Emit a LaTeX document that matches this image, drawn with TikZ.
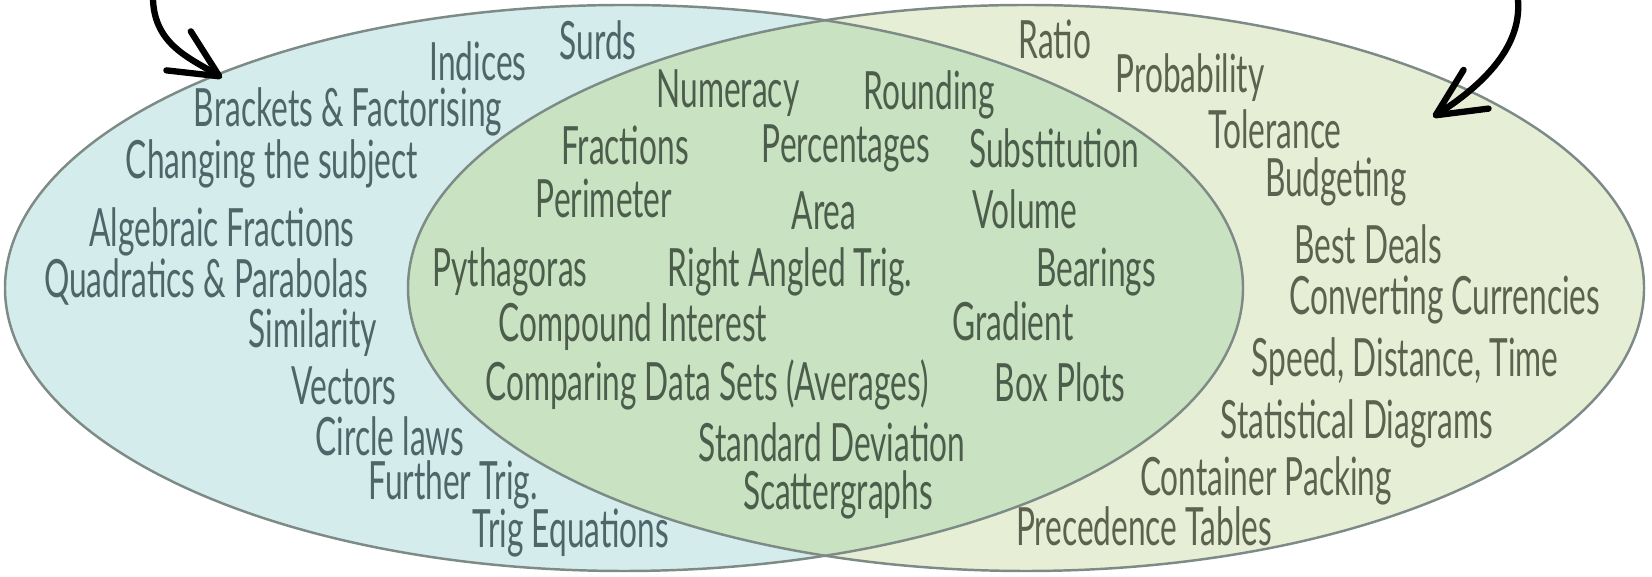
\documentclass[tikz,border=0pt]{standalone}
\usepackage{fontspec}
\setmainfont{Lato}[FakeStretch=0.6]
\usetikzlibrary{arrows.meta}
\definecolor{leftfill}{HTML}{D5ECEC}
\definecolor{rightfill}{HTML}{E6EFD5}
\definecolor{midfill}{HTML}{C9E2C2}
\definecolor{rimgray}{HTML}{7D8A85}
\definecolor{lefttext}{HTML}{4E6569}
\definecolor{midtext}{HTML}{4C5D4B}
\definecolor{righttext}{HTML}{5D6250}
\begin{document}
\begin{tikzpicture}[x=0.01cm, y=-0.01cm,
    topic/.style={inner sep=0pt, font=\fontsize{15}{17}\selectfont},
    lefttopic/.style={topic, text=lefttext},
    midtopic/.style={topic, text=midtext},
    righttopic/.style={topic, text=righttext},
    rim/.style={draw=rimgray, line width=0.7pt},
    bigarrow/.style={line width=1.8pt, line cap=round, -{Straight Barb[length=4.8mm, width=4.6mm, round]}}]
    \useasboundingbox (0,0) rectangle (1652,577);
    \fill[leftfill] (624,288) ellipse [x radius=619, y radius=283];
    \fill[rightfill] (1026,288) ellipse [x radius=618, y radius=283];
    \begin{scope}
        \clip (624,288) ellipse [x radius=619, y radius=283];
        \fill[midfill] (1026,288) ellipse [x radius=618, y radius=283];
    \end{scope}
    \draw[rim] (624,288) ellipse [x radius=619, y radius=283];
    \draw[rim] (1026,288) ellipse [x radius=618, y radius=283];

    \node[lefttopic] (surds) at (598,40) {Surds};
    \node[lefttopic] (indices) at (478,61) {Indices};
    \node[lefttopic] (brackets) at (348,112) {Brackets \& Factorising};
    \node[lefttopic] (subject) at (272,164) {Changing the subject};
    \node[lefttopic] (algfrac) at (222,232) {Algebraic Fractions};
    \node[lefttopic] (quadratics) at (206,282) {Quadratics \& Parabolas};
    \node[lefttopic] (similarity) at (313,333) {Similarity};
    \node[lefttopic] (vectors) at (344,386) {Vectors};
    \node[lefttopic] (circle) at (390,436) {Circle laws};
    \node[lefttopic] (furthertrig) at (453,485) {Further Trig.};
    \node[lefttopic] (trigeq) at (571,533) {Trig Equations};

    \node[midtopic] (numeracy) at (728,93) {Numeracy};
    \node[midtopic] (rounding) at (929,95) {Rounding};
    \node[midtopic] (fractions) at (625,145) {Fractions};
    \node[midtopic] (percentages) at (846,148) {Percentages};
    \node[midtopic] (substitution) at (1054,148) {Substitution};
    \node[midtopic] (perimeter) at (604,198) {Perimeter};
    \node[midtopic] (area) at (824,211) {Area};
    \node[midtopic] (volume) at (1025,209) {Volume};
    \node[midtopic] (pythagoras) at (510,272) {Pythagoras};
    \node[midtopic] (righttrig) at (790,272) {Right Angled Trig.};
    \node[midtopic] (bearings) at (1096,272) {Bearings};
    \node[midtopic] (compound) at (633,327) {Compound Interest};
    \node[midtopic] (gradient) at (1013,321) {Gradient};
    \node[midtopic] (datasets) at (707,385) {Comparing Data Sets (Averages)};
    \node[midtopic] (boxplots) at (1060,382) {Box Plots};
    \node[midtopic] (stddev) at (832,442) {Standard Deviation};
    \node[midtopic] (scatter) at (838,495) {Scattergraphs};

    \node[righttopic] (ratio) at (1055,39) {Ratio};
    \node[righttopic] (probability) at (1190,78) {Probability};
    \node[righttopic] (tolerance) at (1275,129) {Tolerance};
    \node[righttopic] (budgeting) at (1336,182) {Budgeting};
    \node[righttopic] (bestdeals) at (1368,244) {Best Deals};
    \node[righttopic] (currencies) at (1445,300) {Converting Currencies};
    \node[righttopic] (speed) at (1405,362) {Speed, Distance, Time};
    \node[righttopic] (statdiag) at (1357,424) {Statistical Diagrams};
    \node[righttopic] (container) at (1266,481) {Container Packing};
    \node[righttopic] (precedence) at (1144,526) {Precedence Tables};

    \coordinate (leftstart) at (153,0);
    \coordinate (lefttip) at (222,78);
    \coordinate (rightstart) at (1518,0);
    \coordinate (righttip) at (1433,117);
    \draw[bigarrow] (leftstart) .. controls (155,45) and (190,58) .. (lefttip);
    \draw[bigarrow] (rightstart) .. controls (1522,50) and (1478,88) .. (righttip);
\end{tikzpicture}
\end{document}
